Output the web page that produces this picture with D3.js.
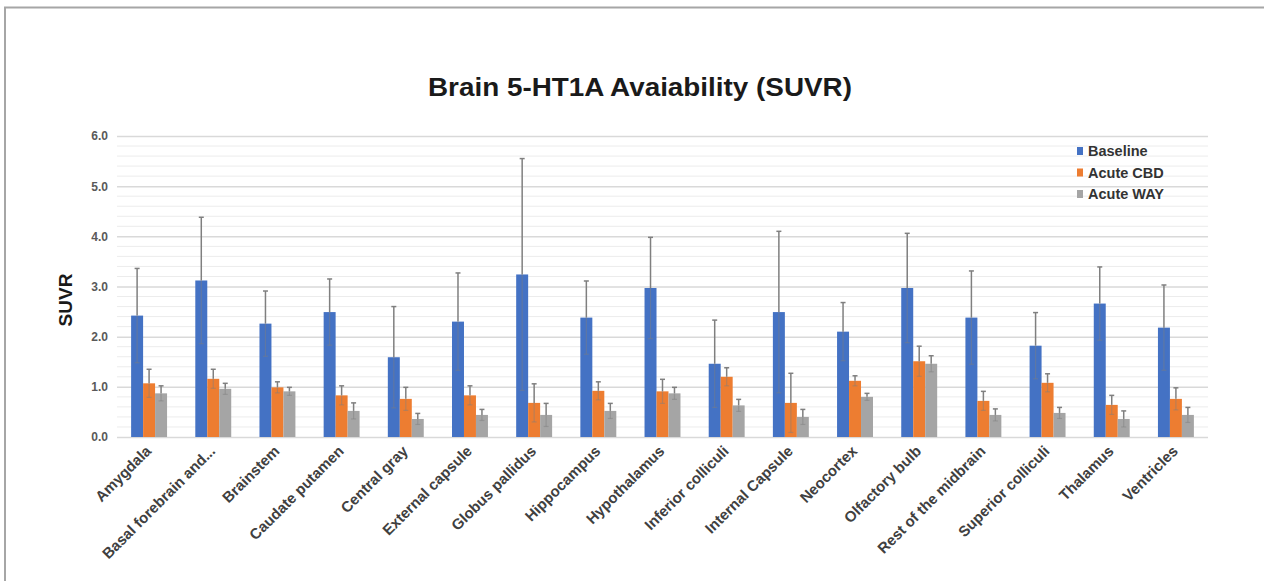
<!DOCTYPE html>
<html>
<head>
<meta charset="utf-8">
<script src="https://cdn.jsdelivr.net/npm/d3@7/dist/d3.min.js"></script>
<style>
  html, body { margin: 0; padding: 0; background: #fff; }
  svg { display: block; font-family: "Liberation Sans", Arial, sans-serif; }
</style>
</head>
<body>
<svg id="chart" width="1264" height="581"></svg>
<script>
// Brain regions (category axis)
const regions = [
  "Amygdala", "Basal forebrain and...", "Brainstem", "Caudate putamen",
  "Central gray", "External capsule", "Globus pallidus", "Hippocampus",
  "Hypothalamus", "Inferior colliculi", "Internal Capsule", "Neocortex",
  "Olfactory bulb", "Rest of the midbrain", "Superior colliculi", "Thalamus",
  "Ventricles"
];

const seriesNames = ["Baseline", "Acute CBD", "Acute WAY"];

// Mean SUVR per region
const baseline = [2.42, 3.12, 2.26, 2.49, 1.59, 2.30, 3.24, 2.38, 2.97, 1.46, 2.49, 2.10, 2.97, 2.38, 1.82, 2.66, 2.18];
const acuteCBD = [1.07, 1.16, 0.99, 0.83, 0.76, 0.83, 0.68, 0.92, 0.91, 1.20, 0.68, 1.12, 1.51, 0.72, 1.08, 0.64, 0.76];
const acuteWAY = [0.87, 0.96, 0.91, 0.52, 0.36, 0.44, 0.44, 0.52, 0.87, 0.63, 0.40, 0.80, 1.46, 0.44, 0.48, 0.36, 0.44];

// Standard deviations (error bars)
const baselineErr = [0.94, 1.26, 0.65, 0.66, 1.01, 0.97, 2.31, 0.73, 1.01, 0.87, 1.61, 0.58, 1.09, 0.93, 0.66, 0.73, 0.85];
const acuteCBDErr = [0.28, 0.19, 0.11, 0.19, 0.23, 0.19, 0.38, 0.18, 0.24, 0.18, 0.59, 0.10, 0.30, 0.19, 0.18, 0.19, 0.22];
const acuteWAYErr = [0.15, 0.11, 0.08, 0.16, 0.11, 0.11, 0.23, 0.15, 0.12, 0.12, 0.15, 0.07, 0.16, 0.12, 0.11, 0.16, 0.15];

const yTicks = [0, 1, 2, 3, 4, 5, 6];
const colors = ["#4472c4", "#ed7d31", "#a5a5a5"];

const means = [baseline, acuteCBD, acuteWAY];
const errs = [baselineErr, acuteCBDErr, acuteWAYErr];

const svg = d3.select("#chart");

// Outer chart frame
svg.append("path")
  .attr("d", "M5,590 L5,7.5 L1270,7.5")
  .attr("fill", "none")
  .attr("stroke", "#a6a6a6")
  .attr("stroke-width", 2);

const plot = { left: 117, right: 1208, top: 136, bottom: 437 };

const y = d3.scaleLinear().domain([0, 6]).range([plot.bottom, plot.top]);
const x = d3.scaleBand().domain(regions).range([plot.left, plot.right])
  .paddingInner(0.44).paddingOuter(0.22);
const xs = d3.scaleBand().domain(seriesNames).range([0, x.bandwidth()]).padding(0);

// Minor gridlines every 0.2
const minor = d3.range(0, 6.0001, 0.2).filter(v => Math.abs(v - Math.round(v)) > 1e-6);
svg.append("g").selectAll("line").data(minor).join("line")
  .attr("x1", plot.left).attr("x2", plot.right)
  .attr("y1", d => y(d)).attr("y2", d => y(d))
  .attr("stroke", "#ececec").attr("stroke-width", 1);

// Major gridlines and tick labels
const yAxis = d3.axisLeft(y).tickValues(yTicks).tickFormat(d3.format(".1f"))
  .tickSize(-(plot.right - plot.left)).tickPadding(9);
const gy = svg.append("g").attr("transform", `translate(${plot.left},0)`).call(yAxis);
gy.select(".domain").remove();
gy.selectAll(".tick line").attr("stroke", "#d9d9d9").attr("stroke-width", 1.5);
gy.selectAll(".tick text")
  .attr("fill", "#595959").attr("font-size", 12).attr("font-weight", "bold");

// Bars
const groups = svg.append("g").selectAll("g").data(regions).join("g")
  .attr("transform", d => `translate(${x(d)},0)`);

const cells = groups.selectAll("g.cell")
  .data((d, i) => seriesNames.map((s, k) => ({ s, k, v: means[k][i], e: errs[k][i] })))
  .join("g").attr("class", "cell");

cells.append("rect")
  .attr("x", d => xs(d.s))
  .attr("width", xs.bandwidth())
  .attr("y", d => y(d.v))
  .attr("height", d => y(0) - y(d.v))
  .attr("fill", d => colors[d.k]);

// Error bars: upper whisker in solid gray, lower whisker faint over the bar
const cap = 2.5;
const ec = "#7f7f7f";
cells.each(function (d) {
  const g = d3.select(this);
  const cx = xs(d.s) + xs.bandwidth() / 2;
  g.append("line").attr("x1", cx).attr("x2", cx)
    .attr("y1", y(d.v)).attr("y2", y(d.v + d.e))
    .attr("stroke", ec).attr("stroke-width", 1.5);
  g.append("line").attr("x1", cx - cap).attr("x2", cx + cap)
    .attr("y1", y(d.v + d.e)).attr("y2", y(d.v + d.e))
    .attr("stroke", ec).attr("stroke-width", 1.5);
  g.append("line").attr("x1", cx).attr("x2", cx)
    .attr("y1", y(d.v)).attr("y2", y(d.v - d.e))
    .attr("stroke", ec).attr("stroke-width", 1.2).attr("stroke-opacity", 0.45);
  g.append("line").attr("x1", cx - cap).attr("x2", cx + cap)
    .attr("y1", y(d.v - d.e)).attr("y2", y(d.v - d.e))
    .attr("stroke", ec).attr("stroke-width", 1.2).attr("stroke-opacity", 0.45);
});

// Category labels
const xAxis = d3.axisBottom(x).tickSize(0).tickPadding(0);
const gx = svg.append("g").attr("transform", `translate(0,${plot.bottom})`).call(xAxis);
gx.select(".domain").remove();
gx.selectAll(".tick text")
  .attr("text-anchor", "end")
  .attr("font-size", 15)
  .attr("font-weight", "bold")
  .attr("fill", "#404040")
  .attr("dy", 0)
  .attr("transform", "translate(3,15) rotate(-45)");

// Title
svg.append("text")
  .attr("x", 640).attr("y", 96)
  .attr("text-anchor", "middle")
  .attr("font-size", 25.5).attr("font-weight", "bold").attr("fill", "#1a1a1a")
  .attr("textLength", 424).attr("lengthAdjust", "spacingAndGlyphs")
  .text("Brain 5-HT1A Avaiability (SUVR)");

// Y-axis title
svg.append("text")
  .attr("transform", "translate(72,300) rotate(-90)")
  .attr("text-anchor", "middle")
  .attr("font-size", 19).attr("font-weight", "bold").attr("fill", "#1a1a1a")
  .text("SUVR");

// Legend
const legend = svg.append("g").attr("transform", "translate(1077,151)");
const li = legend.selectAll("g").data(seriesNames).join("g")
  .attr("transform", (d, i) => `translate(0,${i * 21.5})`);
li.append("rect").attr("x", 0).attr("y", -4).attr("width", 6).attr("height", 8)
  .attr("fill", (d, i) => colors[i]);
li.append("text").attr("x", 11).attr("y", 0).attr("dy", "0.35em")
  .attr("font-size", 14.5).attr("font-weight", "bold").attr("fill", "#333")
  .text(d => d);
</script>
</body>
</html>
